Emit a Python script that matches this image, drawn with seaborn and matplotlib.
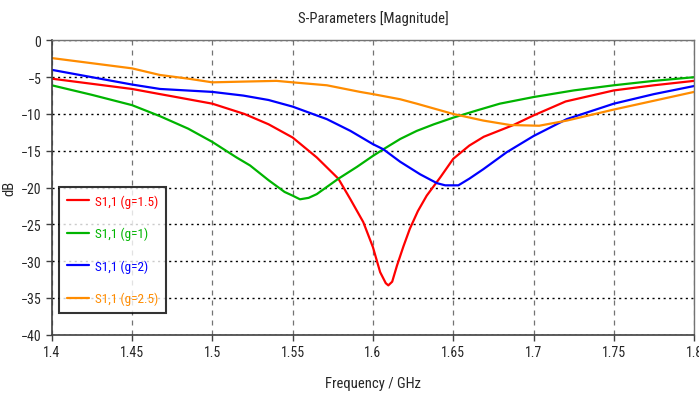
import numpy as np
import pandas as pd
import seaborn as sns
import matplotlib.pyplot as plt
from matplotlib import font_manager as fm

# 数据
f_g15 = [1.40, 1.425, 1.45, 1.4674, 1.475, 1.50, 1.52, 1.535, 1.55, 1.565, 1.5785, 1.586,
         1.594, 1.60, 1.6045, 1.608, 1.6096, 1.612, 1.615, 1.619, 1.623, 1.628, 1.6335,
         1.642, 1.65, 1.66, 1.669, 1.6875, 1.70, 1.72, 1.75, 1.775, 1.80]
s_g15 = [-5.2, -5.9, -6.6, -7.3, -7.6, -8.6, -10.0, -11.4, -13.2, -15.9, -18.8, -21.6,
         -24.7, -28.1, -31.5, -33.0, -33.3, -32.8, -30.6, -28.0, -25.6, -23.2, -21.1,
         -18.6, -16.1, -14.3, -13.1, -11.5, -10.2, -8.3, -6.8, -6.1, -5.5]

f_g1 = [1.40, 1.425, 1.45, 1.4674, 1.485, 1.50, 1.515, 1.5235, 1.535, 1.545, 1.55, 1.5546,
        1.56, 1.565, 1.5785, 1.59, 1.60, 1.6065, 1.617, 1.6273, 1.638, 1.65, 1.665, 1.679,
        1.70, 1.725, 1.75, 1.775, 1.80]
s_g1 = [-6.1, -7.4, -8.8, -10.3, -12.0, -13.8, -15.9, -17.0, -19.0, -20.6, -21.1, -21.6,
        -21.4, -20.9, -18.8, -17.2, -15.7, -14.8, -13.4, -12.3, -11.4, -10.5, -9.5, -8.6,
        -7.7, -6.8, -6.1, -5.5, -5.0]

f_g2 = [1.40, 1.425, 1.45, 1.4674, 1.50, 1.5193, 1.535, 1.55, 1.5713, 1.586, 1.60, 1.6065,
        1.617, 1.6294, 1.6398, 1.645, 1.6532, 1.66, 1.6688, 1.6833, 1.70, 1.7207, 1.75,
        1.775, 1.80]
s_g2 = [-4.0, -5.0, -6.0, -6.6, -7.0, -7.5, -8.1, -9.0, -10.7, -12.3, -14.1, -14.8,
        -16.5, -18.2, -19.4, -19.7, -19.7, -18.8, -17.5, -15.2, -13.0, -10.7, -8.6,
        -7.3, -6.2]

f_g25 = [1.40, 1.425, 1.45, 1.4674, 1.485, 1.50, 1.5193, 1.54, 1.55, 1.5713, 1.592, 1.60,
         1.617, 1.6273, 1.65, 1.6688, 1.6854, 1.7035, 1.7207, 1.75, 1.775, 1.80]
s_g25 = [-2.4, -3.1, -3.8, -4.7, -5.2, -5.7, -5.6, -5.5, -5.7, -6.1, -7.0, -7.3,
         -8.0, -8.6, -10.0, -10.9, -11.5, -11.6, -10.9, -9.4, -8.2, -7.0]

labels = ["S1,1 (g=1.5)", "S1,1 (g=1)", "S1,1 (g=2)", "S1,1 (g=2.5)"]
colors = ["#ff0000", "#00b400", "#0000ff", "#ff8c00"]
x_ticks = [1.4, 1.45, 1.5, 1.55, 1.6, 1.65, 1.7, 1.75, 1.8]
x_ticklabels = ["1.4", "1.45", "1.5", "1.55", "1.6", "1.65", "1.7", "1.75", "1.8"]
y_ticks = [0, -5, -10, -15, -20, -25, -30, -35, -40]

df = pd.concat([
    pd.DataFrame({"f": f, "s": s, "curve": lab})
    for f, s, lab in zip([f_g15, f_g1, f_g2, f_g25], [s_g15, s_g1, s_g2, s_g25], labels)
])

sns.set_style("white")
# 找一个窄体字体（参考图为窄字体）
names = {f.name for f in fm.fontManager.ttflist}
narrow = [n for n in ["Liberation Sans Narrow", "Roboto Condensed", "Open Sans Condensed"] if n in names]
plt.rcParams["font.family"] = narrow + ["DejaVu Sans"]
plt.rcParams["font.stretch"] = "condensed"

fig = plt.figure(figsize=(6.99, 4.02), dpi=100)
ax = fig.add_axes([0.074, 0.165, 0.919, 0.732])

sns.lineplot(data=df, x="f", y="s", hue="curve", hue_order=labels,
             palette=dict(zip(labels, colors)), linewidth=1.6, sort=False,
             estimator=None, ax=ax)

ax.set_xlim(1.4, 1.8)
ax.set_ylim(-40, 0)
ax.set_xticks(x_ticks)
ax.set_xticklabels(x_ticklabels)
ax.set_yticks(y_ticks)

# 网格：竖线灰色虚线，横线黑色点线
ax.xaxis.grid(True, linestyle=(0, (4, 4)), color="0.45", linewidth=0.9)
ax.yaxis.grid(True, linestyle=(0, (1.5, 2.5)), color="black", linewidth=1.0)
ax.set_axisbelow(True)

for side in ["left", "bottom"]:
    ax.spines[side].set_color("0.25")
    ax.spines[side].set_linewidth(1.2)
for side in ["top", "right"]:
    ax.spines[side].set_color("0.45")
    ax.spines[side].set_linewidth(1.0)

ax.tick_params(axis="both", which="major", direction="out", length=4, width=1,
               color="0.25", labelsize=10, bottom=True, left=True)

ax.set_xlabel("Frequency / GHz", fontsize=10.5, labelpad=12)
ax.set_ylabel("dB", fontsize=10.5, labelpad=3)
ax.set_title("S-Parameters [Magnitude]", fontsize=10.5, pad=13)

leg = ax.legend(loc="lower left", bbox_to_anchor=(0.012, 0.075), borderaxespad=0,
                frameon=True, fancybox=False, fontsize=9.5, handlelength=1.7,
                borderpad=0.55, labelspacing=1.45, handletextpad=0.45)
leg.get_frame().set_edgecolor("black")
leg.get_frame().set_linewidth(1.5)
for txt, c in zip(leg.get_texts(), colors):
    txt.set_color(c)

fig.savefig("out.png", dpi=100)
plt.close(fig)
